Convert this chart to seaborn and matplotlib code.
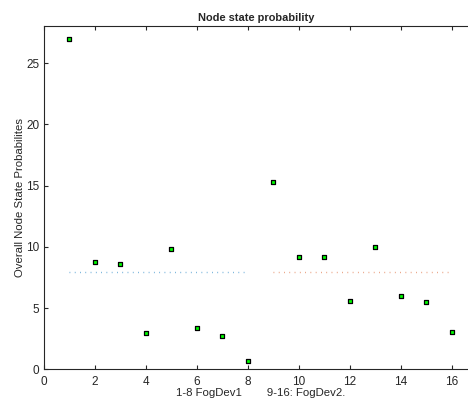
import matplotlib
matplotlib.use("Agg")
import matplotlib.pyplot as plt
import seaborn as sns
import pandas as pd

# node index and probability
nodes = list(range(1, 17))
probs = [27.0, 8.77, 8.6, 2.94, 9.83, 3.35, 2.7, 0.65,
         15.3, 9.18, 9.18, 5.58, 10.0, 5.99, 5.5, 3.05]

# average level per fog device
dev1_x = [1, 8]
dev1_avg = [7.98, 7.98]
dev2_x = [9, 16]
dev2_avg = [7.97, 7.97]

df = pd.DataFrame({"node": nodes, "prob": probs})

sns.set_style("white")
plt.rcParams['font.family'] = ['Liberation Sans', 'DejaVu Sans']

fig = plt.figure(figsize=(4.68, 3.99), dpi=100)
left, right = 44 / 468, 1.0
ax = fig.add_axes([left, 1 - 369.3 / 399, right - left, (369.3 - 26.3) / 399])

sns.lineplot(x=dev1_x, y=dev1_avg, ax=ax, color="#0072BD", linestyle=(0, (0.6, 3.2)),
             linewidth=1.0, alpha=0.6)
sns.lineplot(x=dev2_x, y=dev2_avg, ax=ax, color="#D95319", linestyle=(0, (0.6, 3.2)),
             linewidth=1.0, alpha=0.6)
sns.scatterplot(data=df, x="node", y="prob", ax=ax, marker="s", s=11,
                color="#00FF00", edgecolor="black", linewidth=0.9, zorder=3)

ax.set_xlim(0, 16.63)
ax.set_ylim(0, 28)
ax.set_xticks(range(0, 17, 2))
ax.set_yticks([0, 5, 10, 15, 20, 25])

for side in ["left", "top", "bottom"]:
    ax.spines[side].set_visible(True)
    ax.spines[side].set_color("#262626")
    ax.spines[side].set_linewidth(0.8)
ax.spines["right"].set_visible(False)

ax.tick_params(axis="both", direction="in", length=3, width=0.8, colors="#262626",
               labelsize=8.5, top=True, bottom=True, left=True, right=False)
ax.tick_params(axis="x", pad=5)

ax.set_title("Node state probability", fontsize=7.9, fontweight="bold", pad=4)
ax.set_xlabel("1-8 FogDev1        9-16: FogDev2.", fontsize=8.2, color="#262626")
ax.set_ylabel("Overall Node State Probabilites", fontsize=8.2, color="#262626")
ax.xaxis.set_label_coords((261 - 44) / (468 * (right - left)), -0.054)
ax.yaxis.set_label_coords(-(44 - 25) / (468 * (right - left)), 0.5)

fig.savefig("out.png", dpi=100)
